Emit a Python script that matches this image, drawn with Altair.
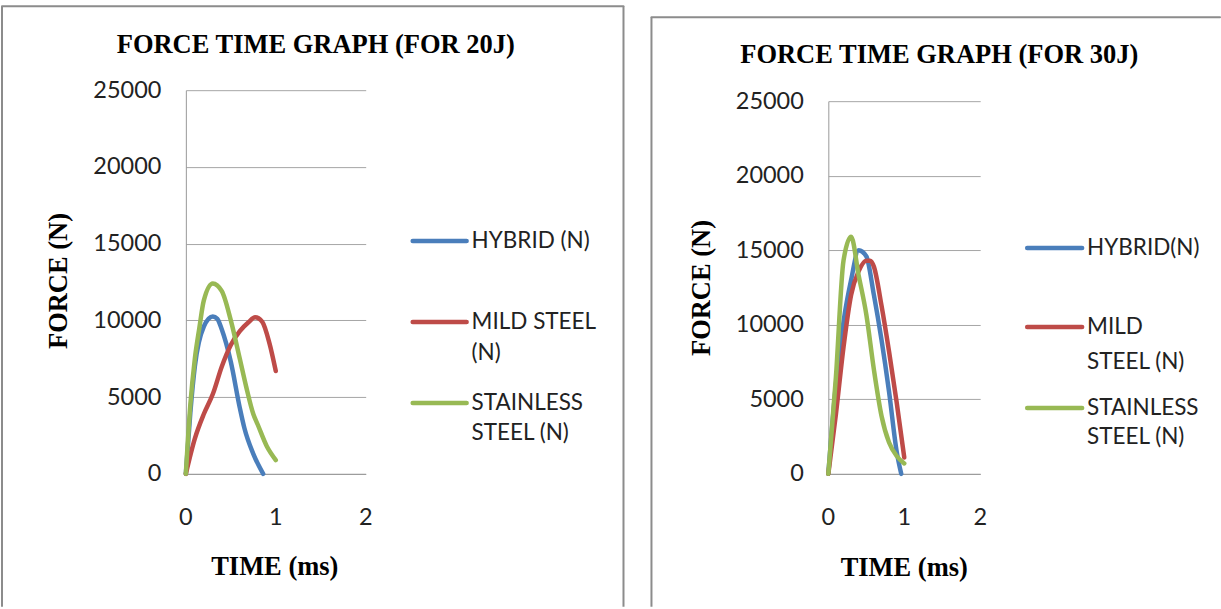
import altair as alt
import pandas as pd

# ---------------- data ----------------
SERIES = ["HYBRID", "MILD STEEL", "STAINLESS STEEL"]
COLORS = ["#4A7EBB", "#BE4B48", "#98B954"]

# 20 J
t20_hybrid = [0, 0.05, 0.1, 0.2, 0.3, 0.35, 0.4, 0.5, 0.6, 0.65, 0.75, 0.86]
f20_hybrid = [0, 4000, 7000, 9600, 10250, 10100, 9400, 7300, 4300, 3000, 1300, 0]
t20_mild = [0, 0.1, 0.2, 0.3, 0.4, 0.5, 0.6, 0.7, 0.77, 0.85, 0.93, 1.0]
f20_mild = [0, 2300, 3900, 5200, 7000, 8400, 9300, 9900, 10200, 9900, 8500, 6700]
t20_stainless = [0, 0.05, 0.1, 0.15, 0.2, 0.3, 0.4, 0.5, 0.6, 0.67, 0.75, 0.8, 0.9, 1.0]
f20_stainless = [0, 4500, 7500, 9500, 11300, 12400, 11900, 10000, 7500, 5700, 3900, 3200, 1800, 900]

# 30 J
t30_hybrid = [0, 0.1, 0.2, 0.3, 0.4, 0.5, 0.6, 0.7, 0.8, 0.9, 0.96]
f30_hybrid = [0, 6000, 10200, 13000, 15000, 14600, 12000, 9000, 5500, 1500, 0]
t30_mild = [0, 0.1, 0.2, 0.3, 0.4, 0.5, 0.55, 0.6, 0.7, 0.8, 0.9, 1.0]
f30_mild = [0, 4000, 8500, 12000, 13600, 14300, 14300, 13900, 11300, 8200, 4800, 1100]
t30_stainless = [0, 0.1, 0.2, 0.3, 0.4, 0.5, 0.6, 0.7, 0.8, 0.9, 1.0]
f30_stainless = [0, 6500, 14300, 15900, 13300, 10700, 7000, 3900, 2100, 1200, 700]

Y_TICKS = [0, 5000, 10000, 15000, 20000, 25000]
X_TICKS = [0, 1, 2]

LABEL_FONT = "Lato"
SERIF = "Liberation Serif"


def make_df(pairs):
    rows = []
    for s, (ts, fs) in zip(SERIES, pairs):
        for i, (t, f) in enumerate(zip(ts, fs)):
            rows.append({"series": s, "time": t, "force": f, "order": i})
    return pd.DataFrame(rows)


df20 = make_df([(t20_hybrid, f20_hybrid), (t20_mild, f20_mild), (t20_stainless, f20_stainless)])
df30 = make_df([(t30_hybrid, f30_hybrid), (t30_mild, f30_mild), (t30_stainless, f30_stainless)])
xticks_df = pd.DataFrame({"time": X_TICKS})

ONE = alt.Data(values=[{"k": 1}])
FRAME = "#8c8c8c"


def txt(x, y, s, size=23, font=LABEL_FONT, bold=False, align="left", angle=0):
    return alt.Chart(ONE).mark_text(
        font=font, fontSize=size, fontWeight="bold" if bold else "normal",
        align=align, baseline="middle", angle=angle, color="#000000" if bold else "#222222",
        text=s,
    ).encode(x=alt.value(x), y=alt.value(y))


def hrule(x1, x2, y, color, width):
    return alt.Chart(ONE).mark_rule(color=color, strokeWidth=width, strokeCap="round").encode(
        x=alt.value(x1), x2=alt.value(x2), y=alt.value(y))


def vrule(x, y1, y2, color, width):
    return alt.Chart(ONE).mark_rule(color=color, strokeWidth=width).encode(
        x=alt.value(x), y=alt.value(y1), y2=alt.value(y2))


def panel(df, plot_w, y_top, g):
    xscale = alt.Scale(domain=[0, 2], nice=False)
    lines = alt.Chart(df).mark_line(strokeWidth=4.5, interpolate="monotone", strokeCap="round").encode(
        x=alt.X("time:Q", scale=xscale,
                axis=alt.Axis(values=X_TICKS, title=None, ticks=False, grid=False, labels=False,
                              domainColor="#999999")),
        y=alt.Y("force:Q", scale=alt.Scale(domain=[0, 25000], range=[384, y_top], nice=False),
                axis=alt.Axis(values=Y_TICKS, tickCount=6, title=None, ticks=False, grid=True,
                              labelPadding=25, labelFlush=False, labelOverlap=False,
                              labelFont=LABEL_FONT, labelFontSize=23.5, labelColor="#222222",
                              domainColor="#999999", gridColor="#a6a6a6", format="d")),
        color=alt.Color("series:N", scale=alt.Scale(domain=SERIES, range=COLORS), legend=None),
        order="order:Q",
    )
    xlabels = alt.Chart(xticks_df).mark_text(
        font=LABEL_FONT, fontSize=23.5, color="#222222", align="center", baseline="middle"
    ).encode(x=alt.X("time:Q"), y=alt.value(428), text=alt.Text("time:Q", format="d"))
    layers = [lines, xlabels]
    # frame
    fx1, fx2, fy = g["frame"]
    layers.append(hrule(fx1, fx2, fy, FRAME, 2))
    layers.append(vrule(fx1, fy, 517, FRAME, 2))
    if g.get("frame_right", True):
        layers.append(vrule(fx2, fy, 517, FRAME, 2))
    # titles
    tx, ty, ts = g["title"]
    layers.append(txt(tx, ty, ts, size=26.5, font=SERIF, bold=True, align="center"))
    yx, yy = g["ytitle"]
    layers.append(txt(yx, yy, "FORCE (N)", size=26.5, font=SERIF, bold=True, align="center", angle=270))
    xx, xy = g["xtitle"]
    layers.append(txt(xx, xy, "TIME (ms)", size=26.5, font=SERIF, bold=True, align="center"))
    # legend
    lx1, lx2, ltx = g["legend_x"]
    for color, ly, text_lines in g["legend"]:
        layers.append(hrule(lx1, lx2, ly, color, 4.5))
        for line_text, line_y in text_lines:
            layers.append(txt(ltx, line_y, line_text, size=22.5))
    return alt.layer(*layers).properties(width=plot_w, height=384)


left = panel(df20, 180, 0, {
    "frame": (-184, 438, -84),
    "title": (130, -45, "FORCE TIME GRAPH (FOR 20J)"),
    "ytitle": (-127, 191),
    "xtitle": (89, 477),
    "legend_x": (227, 281, 286),
    "legend": [
        (COLORS[0], 151, [("HYBRID (N)", 151)]),
        (COLORS[1], 232, [("MILD STEEL", 232), ("(N)", 263)]),
        (COLORS[2], 313, [("STAINLESS", 313), ("STEEL (N)", 343)]),
    ],
})

right = panel(df30, 152, 11, {
    "frame": (-177, 392, -73),
    "frame_right": False,
    "title": (111, -35, "FORCE TIME GRAPH (FOR 30J)"),
    "ytitle": (-126, 198),
    "xtitle": (76, 478),
    "legend_x": (199, 254, 259),
    "legend": [
        (COLORS[0], 158, [("HYBRID(N)", 158)]),
        (COLORS[1], 237, [("MILD", 237), ("STEEL (N)", 272)]),
        (COLORS[2], 318, [("STAINLESS", 318), ("STEEL (N)", 347)]),
    ],
})

chart = alt.hconcat(left, right, spacing=463, bounds="flush").properties(
    padding={"left": 1, "top": 5, "right": 0, "bottom": 0},
    background="white",
).configure_view(stroke=None)

chart.save("out.html", embed_options={"renderer": "svg", "actions": False})
